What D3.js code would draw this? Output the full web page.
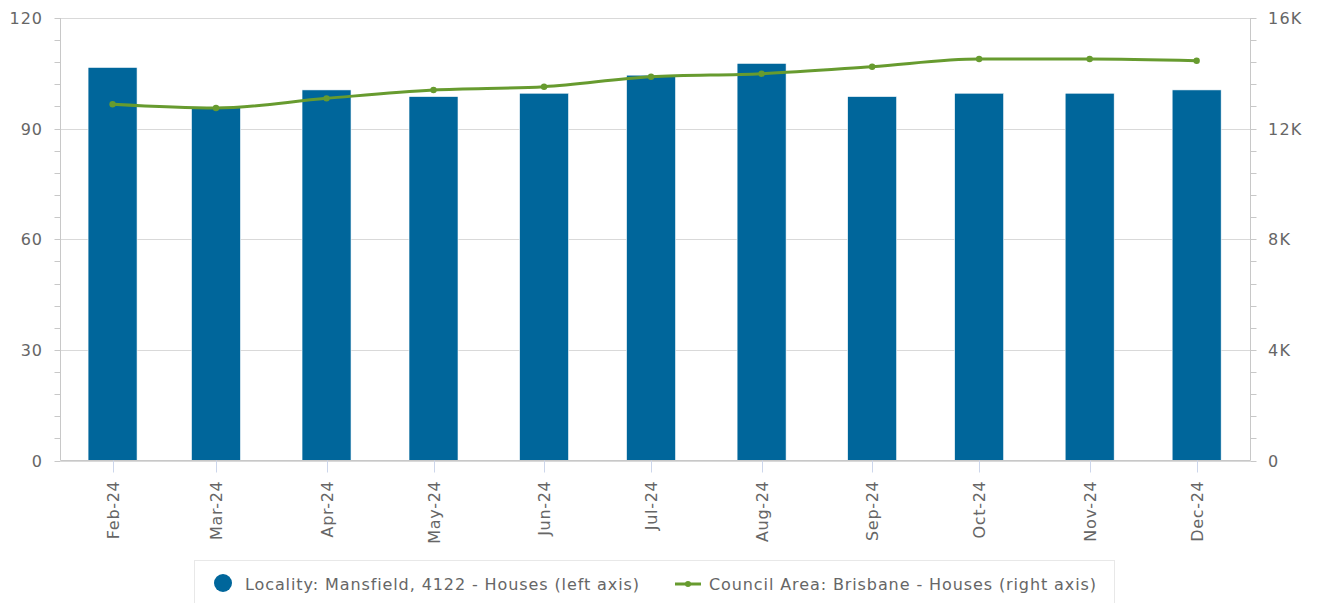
<!DOCTYPE html>
<html><head><meta charset="utf-8">
<script src="https://cdn.jsdelivr.net/npm/d3@7"></script>
<style>body{margin:0;background:#fff;} svg{display:block;font-family:"DejaVu Sans",sans-serif;}</style>
</head><body>
<svg id="c" width="1317" height="603"></svg>
<script>
const months = ["2024-02-01","2024-03-01","2024-04-01","2024-05-01","2024-06-01","2024-07-01","2024-08-01","2024-09-01","2024-10-01","2024-11-01","2024-12-01"];
const monthLabels = ["Feb-24","Mar-24","Apr-24","May-24","Jun-24","Jul-24","Aug-24","Sep-24","Oct-24","Nov-24","Dec-24"];
const localityValues = [106.6,95.7,100.5,98.7,99.6,104.5,107.7,98.7,99.6,99.6,100.5];
const councilValues = [12880,12745,13095,13395,13515,13875,13985,14240,14515,14515,14455];
const leftTicks = [0,30,60,90,120];
const rightTicks = [0,4000,8000,12000,16000];
const rightTickLabels = ["0","4K","8K","12K","16K"];
const seriesNames = ["Locality: Mansfield, 4122 - Houses (left axis)","Council Area: Brisbane - Houses (right axis)"];

const barColor = "#00669b", lineColor = "#679b2f", gridColor = "#d9d9d9", axisColor = "#c8c8c8", textColor = "#666";
const svg = d3.select("#c");
const L = 60.5, R = 1250.5, T = 18, B = 460.5;
const parse = d3.utcParse("%Y-%m-%d");
const dates = months.map(parse);
const day = 864e5;
const x = d3.scaleUtc().domain([new Date(+dates[0] - 14.6*day), new Date(+dates[dates.length-1] + 15.1*day)]).range([L, R]);
const yL = d3.scaleLinear().domain([0,120]).range([B, T]);
const yR = d3.scaleLinear().domain([0,16000]).range([B, T]);

// gridlines
svg.append("g").selectAll("line").data(leftTicks).join("line")
  .attr("x1", L).attr("x2", R).attr("y1", d=>Math.round(yL(d))+0.5).attr("y2", d=>Math.round(yL(d))+0.5)
  .attr("stroke", gridColor).attr("stroke-width",1);

const minorL = d3.range(0,121,6);
const minorR = d3.range(0,16001,800);

// bars
const bw = 49;
svg.append("g").selectAll("rect").data(localityValues).join("rect")
  .attr("x", (d,i)=>x(dates[i]) - bw/2).attr("width", bw)
  .attr("y", d=>yL(d)).attr("height", d=>B - yL(d))
  .attr("fill", barColor).attr("stroke","#ffffff").attr("stroke-width",0.6);

// axes lines
const axG = svg.append("g").attr("stroke", axisColor).attr("stroke-width",1);
axG.append("line").attr("x1",L).attr("x2",L).attr("y1",T).attr("y2",B);
axG.append("line").attr("x1",R).attr("x2",R).attr("y1",T).attr("y2",B);
axG.append("line").attr("x1",L).attr("x2",R).attr("y1",B).attr("y2",B);
axG.selectAll(".ml").data(minorL).join("line").attr("x1",L-6).attr("x2",L).attr("y1",d=>Math.round(yL(d))+0.5).attr("y2",d=>Math.round(yL(d))+0.5);
axG.selectAll(".mr").data(minorR).join("line").attr("x1",R).attr("x2",R+6).attr("y1",d=>Math.round(yR(d))+0.5).attr("y2",d=>Math.round(yR(d))+0.5);

// x ticks
svg.append("g").selectAll("line").data(dates).join("line")
  .attr("x1", d=>Math.round(x(d))+0.5).attr("x2", d=>Math.round(x(d))+0.5).attr("y1",B).attr("y2",B+12)
  .attr("stroke","#ccd6eb").attr("stroke-width",1);

// x labels
svg.append("g").selectAll("text").data(dates).join("text")
  .attr("transform", d=>`translate(${x(d)+6},${B+20}) rotate(-90)`)
  .attr("text-anchor","end").attr("font-size",16).attr("letter-spacing",0.7).attr("fill",textColor)
  .text((d,i)=>monthLabels[i]);

// y labels
svg.append("g").selectAll("text").data(leftTicks).join("text")
  .attr("x", 43).attr("y", d=>yL(d)+6).attr("text-anchor","end").attr("font-size",16).attr("letter-spacing",1).attr("fill",textColor).text(d=>d);
svg.append("g").selectAll("text").data(rightTicks).join("text")
  .attr("x", 1268).attr("y", d=>yR(d)+6).attr("text-anchor","start").attr("font-size",16).attr("letter-spacing",1.2).attr("fill",textColor).text((d,i)=>rightTickLabels[i]);

// line
const line = d3.line().x((d,i)=>x(dates[i])).y(d=>yR(d)).curve(d3.curveMonotoneX);
svg.append("path").datum(councilValues).attr("d", line).attr("fill","none").attr("stroke",lineColor).attr("stroke-width",3).attr("stroke-linejoin","round");
svg.append("g").selectAll("circle").data(councilValues).join("circle")
  .attr("cx",(d,i)=>x(dates[i])).attr("cy",d=>yR(d)).attr("r",3.2).attr("fill",lineColor);

// legend
const lg = svg.append("g");
lg.append("rect").attr("x",194.5).attr("y",560.5).attr("width",920).attr("height",60).attr("fill","#fff").attr("stroke","#e8e8e8");
lg.append("circle").attr("cx",223).attr("cy",583).attr("r",9).attr("fill",barColor);
lg.append("text").attr("x",245).attr("y",590).attr("font-size",16).attr("letter-spacing",0.9).attr("fill",textColor).text(seriesNames[0]);
lg.append("line").attr("x1",675).attr("x2",701).attr("y1",584).attr("y2",584).attr("stroke",lineColor).attr("stroke-width",3);
lg.append("circle").attr("cx",688).attr("cy",584).attr("r",3).attr("fill",lineColor);
lg.append("text").attr("x",709).attr("y",590).attr("font-size",16).attr("letter-spacing",0.9).attr("fill",textColor).text(seriesNames[1]);
</script>
</body></html>
